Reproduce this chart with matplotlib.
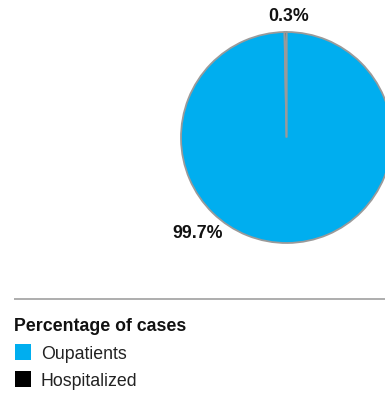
import numpy as np
import matplotlib.pyplot as plt
from matplotlib.patches import Rectangle

plt.rcParams['font.family'] = ['Liberation Sans', 'DejaVu Sans']

# share of cases
labels = ['Oupatients', 'Hospitalized']
shares = [99.7, 0.3]
colors = ['#00aeef', '#000000']

W, H = 385, 394
fig = plt.figure(figsize=(W / 100, H / 100), dpi=100)
ax = fig.add_axes([0, 0, 1, 1])
ax.set_xlim(0, W)
ax.set_ylim(0, H)
ax.set_aspect('equal')
ax.axis('off')

cx, cy, r = 286.5, H - 137.5, 105.5
wedges, _ = ax.pie(shares, colors=colors, center=(cx, cy), radius=r,
                   startangle=90, counterclock=False,
                   wedgeprops=dict(edgecolor='#9a9a9a', linewidth=1.3))
ax.set_xlim(0, W)
ax.set_ylim(0, H)

# value labels outside the pie
label_pos = {0: (198, H - 238), 1: (289, H - 21)}
for i, v in enumerate(shares):
    x, y = label_pos[i]
    ax.text(x, y, f'{v:.1f}%', ha='center', va='baseline',
            fontsize=12.8, fontweight='bold', color='#111111')

# legend block
ax.plot([14, W], [H - 299, H - 299], color='#a0a0a0', lw=1.2, solid_capstyle='butt')
ax.text(14, H - 331, 'Percentage of cases', ha='left', va='baseline',
        fontsize=12.8, fontweight='bold', color='#111111')
for i, (lab, c) in enumerate(zip(labels, colors)):
    top = 344 + i * 27
    ax.add_patch(Rectangle((15, H - top - 16), 16, 16, facecolor=c, edgecolor='none'))
    ax.text(41, H - top - 15, lab, ha='left', va='baseline',
            fontsize=12.8, color='#222222')

fig.savefig('out.png', dpi=100)
